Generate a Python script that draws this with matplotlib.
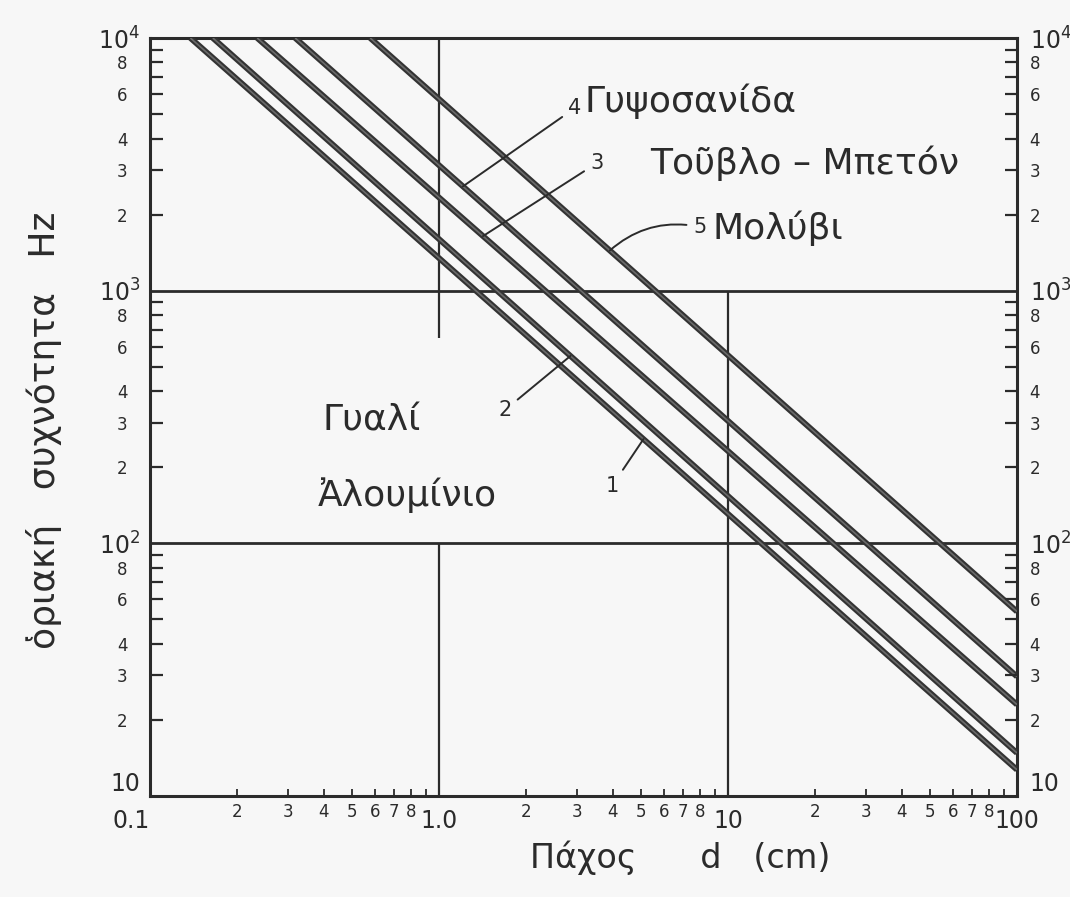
import numpy as np
import matplotlib
matplotlib.use('Agg')
import matplotlib.pyplot as plt
from matplotlib.ticker import FixedLocator, FixedFormatter

plt.rcParams['font.family'] = ['DejaVu Sans']

# ---------------- data ----------------
line_ids = ['1', '2', '3', '4', '5']
materials = ['Ἀλουμίνιο', 'Γυαλί', 'Τοῦβλο – Μπετόν', 'Γυψοσανίδα', 'Μολύβι']
d_start = [0.138, 0.165, 0.235, 0.318, 0.578]      # thickness (cm) where f = 10^4 Hz
f_start = [1e4, 1e4, 1e4, 1e4, 1e4]
d_end = [100, 100, 100, 100, 100]
f_end = [12.7, 14.8, 23.0, 29.7, 53.7]              # critical frequency (Hz) at d = 100 cm
leader_d = [5.1, 2.85, 1.42, 1.21, 3.9]             # where each number's leader touches its line

x_major = [0.1, 1, 10, 100]
x_major_labels = ['0.1', '1.0', '10', '100']
x_minor_mult = [2, 3, 4, 5, 6, 7, 8, 9]
x_minor_labels = ['2', '3', '4', '5', '6', '7', '8', '']
y_major = [10, 100, 1000, 10000]
y_major_labels = ['10', '10$^2$', '10$^3$', '10$^4$']
y_minor_mult = [2, 3, 4, 5, 6, 7, 8, 9]
y_minor_labels = ['2', '3', '4', '', '6', '', '8', '']

xlabel = 'Πάχος      d   (cm)'
ylabel = 'ὁριακή   συχνότητα   Hz'

# ---------------- figure ----------------
W, H = 1070, 897
fig = plt.figure(figsize=(W / 100, H / 100), dpi=100, facecolor='#f7f7f7')
ax = fig.add_axes([150 / W, 1 - 796 / H, (1017 - 150) / W, (796 - 38) / H])
ax.set_facecolor('#f7f7f7')
ax.set_xscale('log')
ax.set_yscale('log')
ax.set_xlim(0.1, 100)
ax.set_ylim(10, 1e4)

ink = '#2b2b2b'
for s in ax.spines.values():
    s.set_linewidth(2.2)
    s.set_color(ink)

# grid segments
ax.hlines([100, 1000], 0.1, 100, color=ink, lw=2.0, zorder=2)
ax.vlines(1, 650, 1e4, color=ink, lw=1.6, zorder=2)
ax.vlines(1, 10, 100, color=ink, lw=1.6, zorder=2)
ax.vlines(10, 10, 1000, color=ink, lw=1.6, zorder=2)

# material lines
for ds, fs, de, fe in zip(d_start, f_start, d_end, f_end):
    ax.plot([ds, de], [fs, fe], color='#333333', lw=4.2, solid_capstyle='butt', zorder=3)
    ax.plot([ds, de], [fs, fe], color='#6a6a6a', lw=1.2, solid_capstyle='butt', zorder=4)


def f_on_line(i, d):
    ld0, lf0 = np.log10(d_start[i]), np.log10(f_start[i])
    ld1, lf1 = np.log10(d_end[i]), np.log10(f_end[i])
    t = (np.log10(d) - ld0) / (ld1 - ld0)
    return 10 ** (lf0 + t * (lf1 - lf0))


# ---------------- ticks ----------------
x_minor = [m * 10.0 ** e for e in (-1, 0, 1) for m in x_minor_mult]
x_minor_lab = x_minor_labels * 3
ax.xaxis.set_major_locator(FixedLocator(x_major))
ax.xaxis.set_major_formatter(FixedFormatter(x_major_labels))
ax.xaxis.set_minor_locator(FixedLocator(x_minor))
ax.xaxis.set_minor_formatter(FixedFormatter(x_minor_lab))
ax.tick_params(axis='x', which='major', length=0, pad=9, labelsize=17, colors=ink)
ax.tick_params(axis='x', which='minor', direction='in', length=5, width=1.3,
               pad=5, labelsize=12, colors=ink)

y_minor = [m * 10.0 ** e for e in (1, 2, 3) for m in y_minor_mult]
y_minor_lab = y_minor_labels * 3
ax.yaxis.set_major_locator(FixedLocator(y_major))
ax.yaxis.set_major_formatter(FixedFormatter(y_major_labels))
ax.yaxis.set_minor_locator(FixedLocator(y_minor))
ax.yaxis.set_minor_formatter(FixedFormatter(y_minor_lab))
ax.tick_params(axis='y', which='major', length=0, pad=7, labelsize=17, colors=ink)
ax.tick_params(axis='y', which='minor', direction='in', length=9, width=1.6,
               pad=16, labelsize=12, colors=ink)

ax2 = ax.twinx()
ax2.set_yscale('log')
ax2.set_ylim(10, 1e4)
ax2.yaxis.set_major_locator(FixedLocator(y_major))
ax2.yaxis.set_major_formatter(FixedFormatter(y_major_labels))
ax2.yaxis.set_minor_locator(FixedLocator(y_minor))
ax2.yaxis.set_minor_formatter(FixedFormatter(y_minor_lab))
ax2.tick_params(axis='y', which='major', length=0, pad=9, labelsize=17, colors=ink)
ax2.tick_params(axis='y', which='minor', direction='in', length=9, width=1.6,
                pad=9, labelsize=12, colors=ink)
for s in ax2.spines.values():
    s.set_visible(False)

for lbl in ax.xaxis.get_majorticklabels():
    if lbl.get_text() == '0.1':
        lbl.set_ha('right')
for a in (ax, ax2):
    for lbl in a.yaxis.get_majorticklabels():
        if lbl.get_text() == '10':
            lbl.set_va('bottom')

ax.set_xlabel(xlabel, fontsize=24, color=ink)
ax.xaxis.set_label_coords((680 - 150) / 867, (796 - 840) / 758)
ax.set_ylabel(ylabel, fontsize=26, color=ink)
ax.yaxis.set_label_coords((62 - 150) / 867, (796 - 430) / 758)

# ---------------- material names ----------------
tkw = dict(fontsize=26, color=ink, transform=fig.transFigure, va='center')
name_pos = {
    0: (318, 495), 1: (322, 420), 2: (650, 163), 3: (585, 101), 4: (712, 228),
}
for i, (px, py) in name_pos.items():
    fig.text(px / W, 1 - py / H, materials[i], ha='left', **tkw)

# ---------------- numbered leaders ----------------
num_pos = [(612, 486), (505, 410), (597, 163), (575, 108), (700, 227)]
rads = [0.0, 0.0, 0.0, 0.0, 0.25]
for i, (px, py) in enumerate(num_pos):
    ax.annotate(line_ids[i], xy=(leader_d[i], f_on_line(i, leader_d[i])), xycoords='data',
                xytext=(px, H - py), textcoords='figure pixels',
                fontsize=15, color=ink, ha='center', va='center',
                arrowprops=dict(arrowstyle='-', color=ink, lw=1.4, shrinkA=3, shrinkB=0,
                                connectionstyle=f'arc3,rad={rads[i]}'),
                zorder=6)

fig.savefig('out.png', dpi=100, facecolor=fig.get_facecolor())
